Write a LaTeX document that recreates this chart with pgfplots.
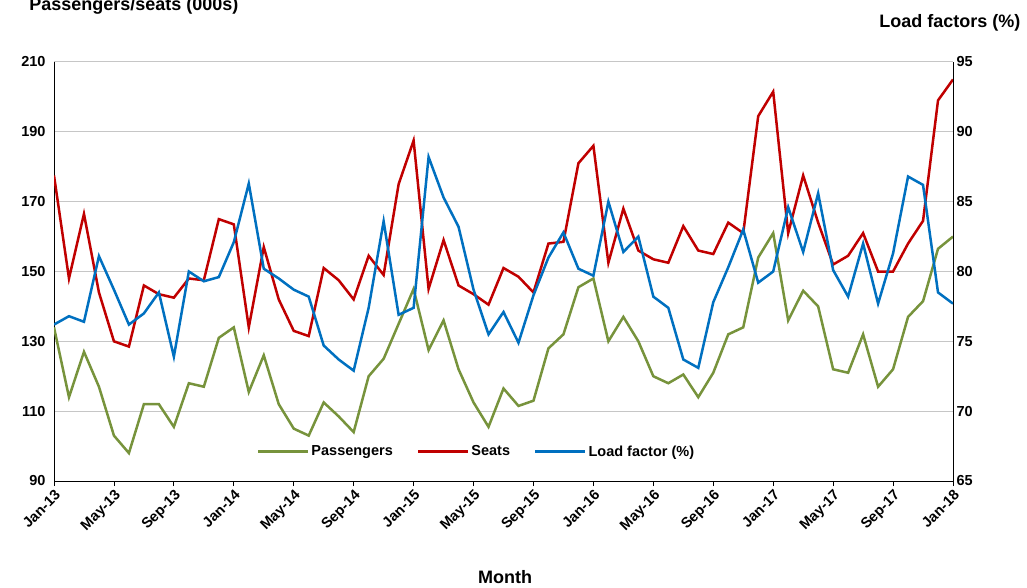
\documentclass[border=0pt]{standalone}
\usepackage{pgfplots}
\pgfplotsset{compat=1.18}
\usepackage{fontspec}
\setmainfont{Liberation Sans}
\definecolor{cg}{RGB}{119,147,60}
\definecolor{cr}{RGB}{192,0,0}
\definecolor{cb}{RGB}{0,112,192}
\begin{document}
\begin{tikzpicture}[x=1pt,y=1pt]
\useasboundingbox (0,0) rectangle (1027,587);
\pgfplotsset{every axis/.append style={scale only axis, width=899pt, height=419pt, at={(54pt,106pt)}, anchor=south west,
 xmin=0, xmax=60, tick label style={font=\fontsize{14.5}{15}\selectfont\bfseries}, /pgf/number format/assume math mode=true}}
\begin{axis}[
 ymin=90, ymax=210, ytick={90,110,...,210},
 axis x line*=bottom, axis y line*=left,
 ymajorgrids, grid style={gray!45, line width=1pt},
 xtick={0,4,...,60}, xticklabels={Jan-13,May-13,Sep-13,Jan-14,May-14,Sep-14,Jan-15,May-15,Sep-15,Jan-16,May-16,Sep-16,Jan-17,May-17,Sep-17,Jan-18},
 xticklabel style={rotate=45, anchor=north east, inner sep=2pt},
 xtick style={black, line width=0.8pt}, major tick length=5pt, tick align=outside,
 ytick style={draw=none},
 axis line style={black, line width=0.8pt},
 legend style={draw=none, fill=none, at={(0.47,0.07)}, anchor=center, legend columns=-1, font=\fontsize{14.5}{15}\selectfont\bfseries, /tikz/every even column/.append style={column sep=22pt}},
 legend image code/.code={\draw[#1, line width=2.5pt] (0pt,0pt) -- (50pt,0pt);},
]
\addplot[cg, line width=2.5pt] coordinates {(0,134)(1,114)(2,127)(3,117)(4,103)(5,98)(6,112)(7,112)(8,105.5)(9,118)(10,117)(11,131)(12,134)(13,115.5)(14,126)(15,112)(16,105)(17,103)(18,112.5)(19,108.5)(20,104)(21,120)(22,125)(23,135)(24,145)(25,127.5)(26,136)(27,122)(28,112.5)(29,105.5)(30,116.5)(31,111.5)(32,113)(33,128)(34,132)(35,145.5)(36,148)(37,130)(38,137)(39,130)(40,120)(41,118)(42,120.5)(43,114)(44,121)(45,132)(46,134)(47,154)(48,161)(49,136)(50,144.5)(51,140)(52,122)(53,121)(54,132)(55,117)(56,122)(57,137)(58,141.5)(59,156.5)(60,160)};
\addlegendentry{Passengers}
\addplot[cr, line width=2.5pt] coordinates {(0,177.5)(1,148)(2,166.5)(3,144)(4,130)(5,128.5)(6,146)(7,143.5)(8,142.5)(9,148)(10,147.5)(11,165)(12,163.5)(13,134)(14,157)(15,142)(16,133)(17,131.5)(18,151)(19,147.5)(20,142)(21,154.5)(22,149)(23,175)(24,187.5)(25,145)(26,159)(27,146)(28,143.5)(29,140.5)(30,151)(31,148.5)(32,144)(33,158)(34,158.5)(35,181)(36,186)(37,152.5)(38,168)(39,156)(40,153.5)(41,152.5)(42,163)(43,156)(44,155)(45,164)(46,161)(47,194.5)(48,201.5)(49,161)(50,177.5)(51,164)(52,152)(53,154.5)(54,161)(55,150)(56,150)(57,158)(58,164.5)(59,199)(60,205)};
\addlegendentry{Seats}
\addlegendimage{cb, line width=2.5pt}
\addlegendentry{Load factor (\%)}
\end{axis}
\begin{axis}[
 ymin=65, ymax=95, ytick={65,70,...,95},
 axis y line*=right, axis x line=none,
 ytick style={draw=none},
 axis line style={black, line width=0.8pt},
]
\addplot[cb, line width=2.5pt] coordinates {(0,76.2)(1,76.8)(2,76.4)(3,81.1)(4,78.7)(5,76.2)(6,77.0)(7,78.5)(8,73.9)(9,80.0)(10,79.3)(11,79.6)(12,82.1)(13,86.3)(14,80.2)(15,79.5)(16,78.7)(17,78.2)(18,74.7)(19,73.7)(20,72.9)(21,77.4)(22,83.6)(23,76.9)(24,77.4)(25,88.2)(26,85.3)(27,83.2)(28,78.7)(29,75.5)(30,77.1)(31,74.9)(32,78.3)(33,81.0)(34,82.8)(35,80.2)(36,79.7)(37,85.0)(38,81.4)(39,82.5)(40,78.2)(41,77.4)(42,73.7)(43,73.1)(44,77.8)(45,80.3)(46,83.0)(47,79.2)(48,80.0)(49,84.6)(50,81.4)(51,85.6)(52,80.1)(53,78.2)(54,82.0)(55,77.7)(56,81.3)(57,86.8)(58,86.2)(59,78.5)(60,77.7)};
\end{axis}
\node[anchor=east, font=\fontsize{18}{20}\selectfont\bfseries] at (242,581) {Passengers/seats (000s)};
\node[anchor=east, font=\fontsize{18}{20}\selectfont\bfseries] at (1024,564) {Load factors (\%)};
\node[font=\fontsize{18}{20}\selectfont\bfseries] at (505,10) {Month};
\end{tikzpicture}
\end{document}
